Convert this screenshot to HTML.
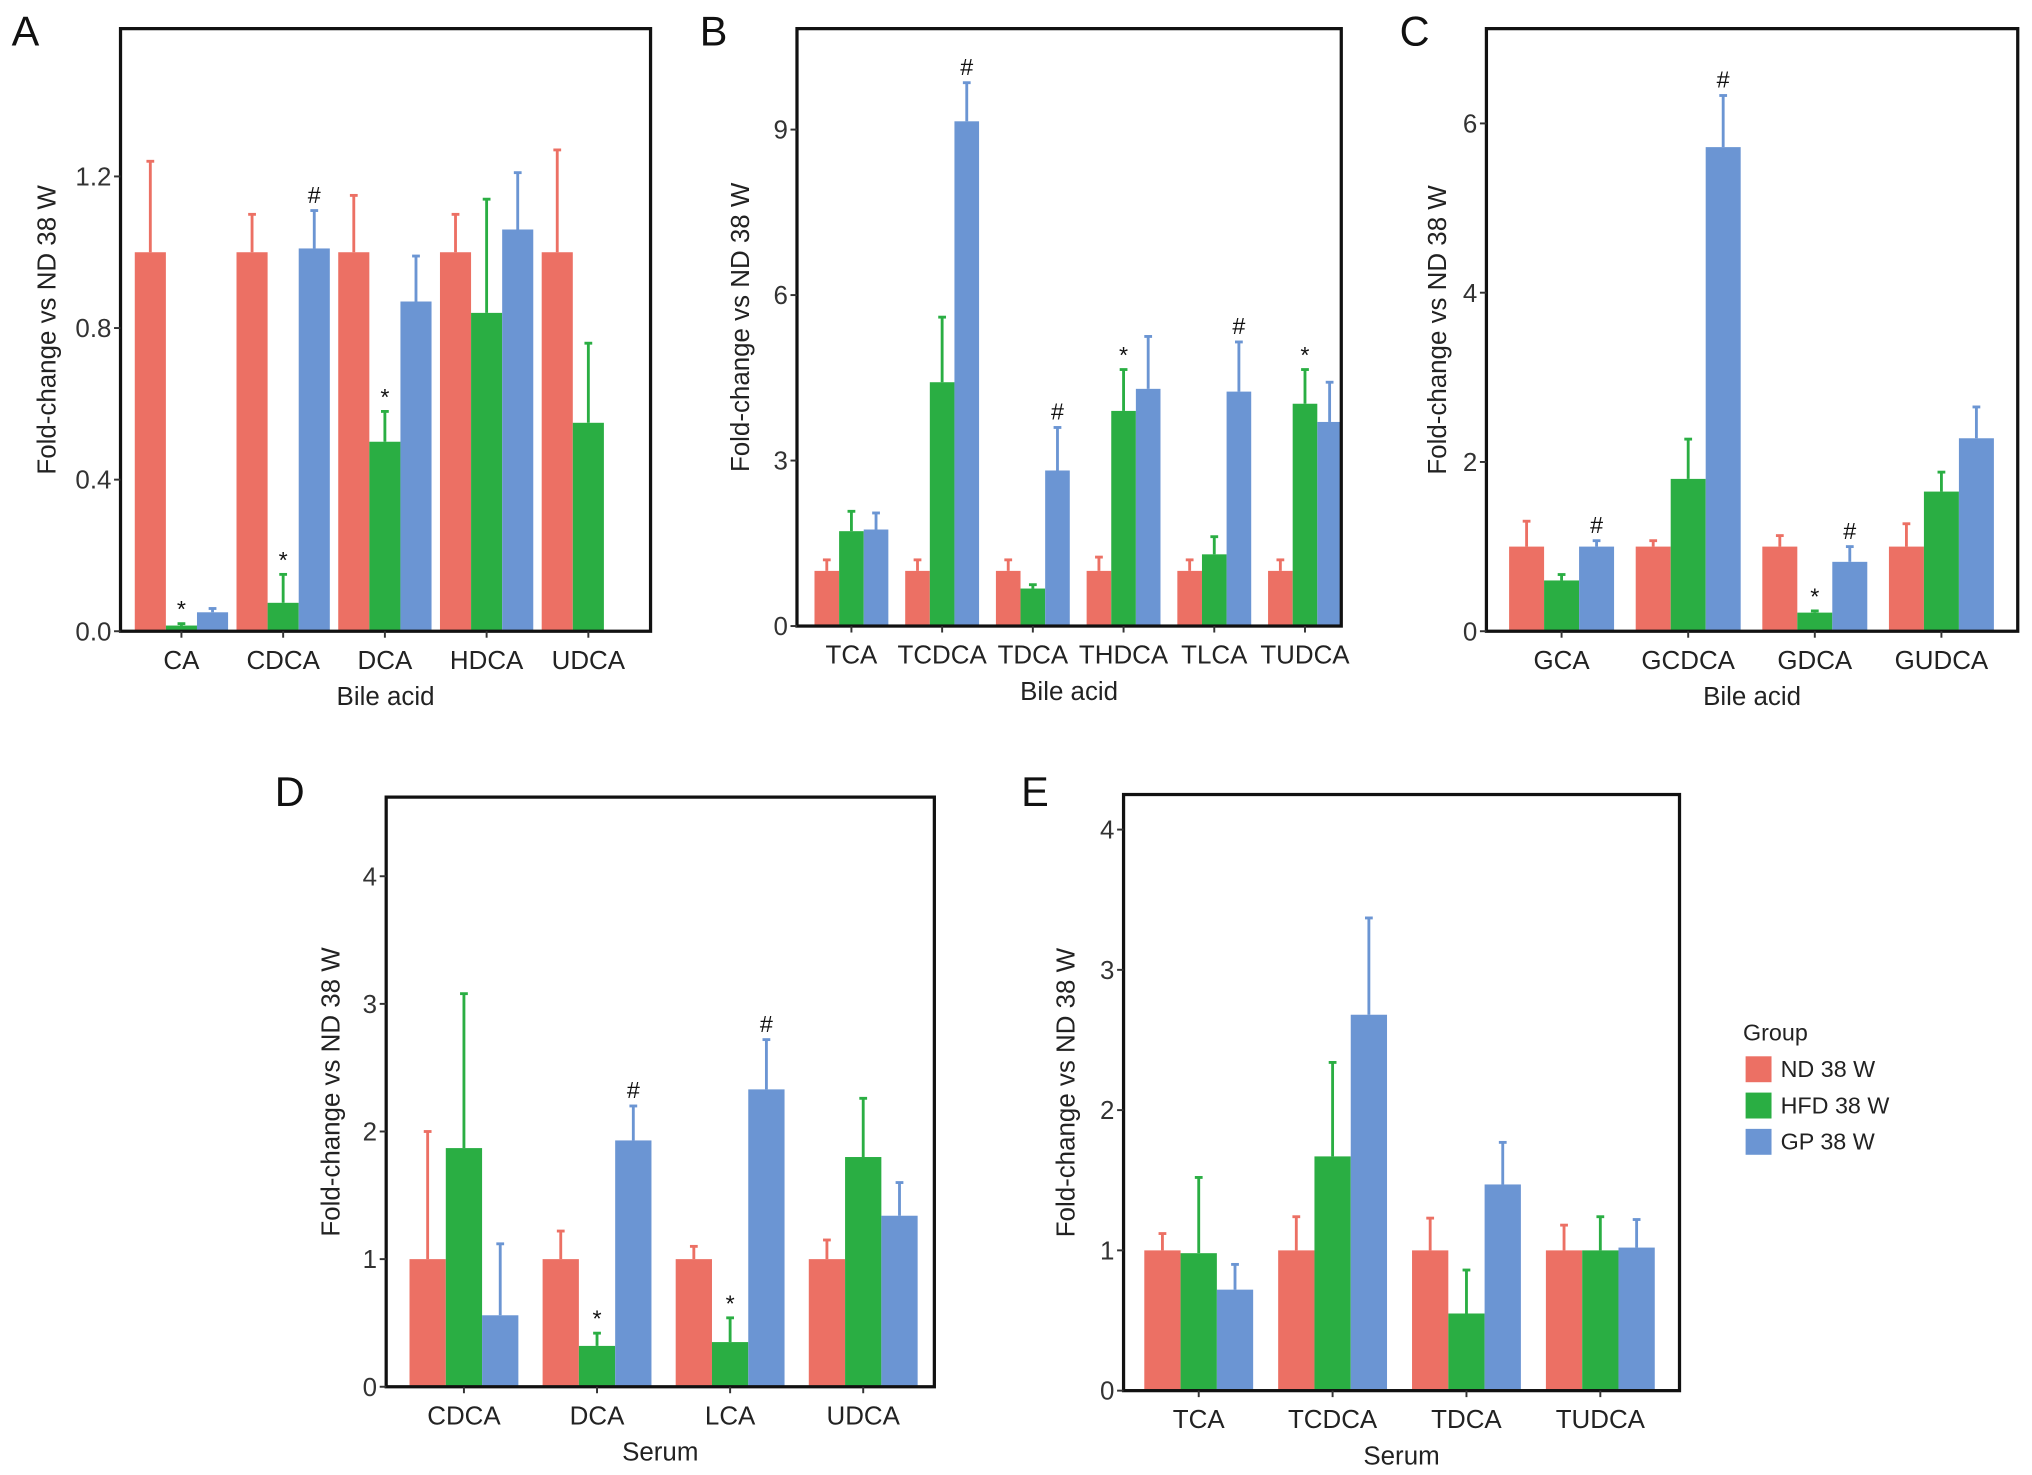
<!DOCTYPE html>
<html><head><meta charset="utf-8"><style>
html,body{margin:0;padding:0;background:#fff;}
svg{display:block;font-family:"Liberation Sans",Arial,sans-serif;}
</style></head><body>
<svg id="fig" width="2032" height="1475" viewBox="0 0 1568 1138" xmlns="http://www.w3.org/2000/svg"></svg>
<script>
const groups = ["ND 38 W", "HFD 38 W", "GP 38 W"];
const colors = ["#EC7064", "#2AAE43", "#6B95D3"];

const catsA = ["CA","CDCA","DCA","HDCA","UDCA"];
const ndA = [1,1,1,1,1];
const ndErrA = [1.24,1.10,1.15,1.10,1.27];
const hfdA = [0.015,0.075,0.50,0.84,0.55];
const hfdErrA = [0.02,0.15,0.58,1.14,0.76];
const gpA = [0.05,1.01,0.87,1.06,0];
const gpErrA = [0.06,1.11,0.99,1.21,0];
const ticksA = [0,0.4,0.8,1.2];
const tickLabelsA = ["0.0","0.4","0.8","1.2"];
const starsA = [0,1,2];
const hashA = [1];

const catsB = ["TCA","TCDCA","TDCA","THDCA","TLCA","TUDCA"];
const ndB = [1,1,1,1,1,1];
const ndErrB = [1.2,1.2,1.2,1.25,1.2,1.2];
const hfdB = [1.72,4.42,0.68,3.9,1.3,4.03];
const hfdErrB = [2.08,5.6,0.75,4.65,1.62,4.65];
const gpB = [1.75,9.15,2.82,4.3,4.25,3.7];
const gpErrB = [2.05,9.85,3.6,5.25,5.15,4.42];
const ticksB = [0,3,6,9];
const tickLabelsB = ["0","3","6","9"];
const starsB = [3,5];
const hashB = [1,2,4];

const catsC = ["GCA","GCDCA","GDCA","GUDCA"];
const ndC = [1,1,1,1];
const ndErrC = [1.3,1.07,1.13,1.27];
const hfdC = [0.6,1.8,0.22,1.65];
const hfdErrC = [0.67,2.27,0.24,1.88];
const gpC = [1.0,5.72,0.82,2.28];
const gpErrC = [1.07,6.33,1.0,2.65];
const ticksC = [0,2,4,6];
const tickLabelsC = ["0","2","4","6"];
const starsC = [2];
const hashC = [0,1,2];

const catsD = ["CDCA","DCA","LCA","UDCA"];
const ndD = [1,1,1,1];
const ndErrD = [2.0,1.22,1.1,1.15];
const hfdD = [1.87,0.32,0.35,1.8];
const hfdErrD = [3.08,0.42,0.54,2.26];
const gpD = [0.56,1.93,2.33,1.34];
const gpErrD = [1.12,2.2,2.72,1.6];
const ticksD = [0,1,2,3,4];
const tickLabelsD = ["0","1","2","3","4"];
const starsD = [1,2];
const hashD = [1,2];

const catsE = ["TCA","TCDCA","TDCA","TUDCA"];
const ndE = [1,1,1,1];
const ndErrE = [1.12,1.24,1.23,1.18];
const hfdE = [0.98,1.67,0.55,1.0];
const hfdErrE = [1.52,2.34,0.86,1.24];
const gpE = [0.72,2.68,1.47,1.02];
const gpErrE = [0.9,3.37,1.77,1.22];
const ticksE = [0,1,2,3,4];
const tickLabelsE = ["0","1","2","3","4"];
const starsE = [];
const hashE = [];

const NS = "http://www.w3.org/2000/svg";
const svg = document.getElementById("fig");
function mk(tag, attrs, parent, text){
  const e = document.createElementNS(NS, tag);
  for (const k in attrs) e.setAttribute(k, attrs[k]);
  if (text !== undefined) e.textContent = text;
  (parent || svg).appendChild(e);
  return e;
}

function panel(cfg){
  const g = mk("g", {});
  
  
  const {x0,x1,y0,y1,ymin,ymax,c0,step,bw} = cfg;
  const yS = v => y0 + (ymax - v) / (ymax - ymin) * (y1 - y0);
  const xS = i => c0 + i * step;
  const series = [[cfg.nd,cfg.ndErr],[cfg.hfd,cfg.hfdErr],[cfg.gp,cfg.gpErr]];
  cfg.cats.forEach((c,i)=>{
    series.forEach((s,k)=>{
      const v = s[0][i], ev = s[1][i];
      if (v <= 0) return;
      const bx = xS(i) + (k-1)*bw - bw/2;
      const cx = bx + bw/2;
      if (ev > v) {
        const el = mk("line",{x1:cx,x2:cx,y1:yS(v),y2:yS(ev),stroke:colors[k],"stroke-width":2.2},g);
        
        
        const cap = mk("line",{x1:cx-3,x2:cx+3,y1:yS(ev),y2:yS(ev),stroke:colors[k],"stroke-width":2.2},g);
        
        
      }
      const r = mk("rect",{x:bx,y:yS(v),width:bw,height:yS(0)-yS(v),fill:colors[k]},g);
      
      
    });
  });
  cfg.stars.forEach(i=>{
    const t = mk("text",{x:xS(i),y:yS(cfg.hfdErr[i])-5,"text-anchor":"middle","font-size":18,fill:"#111"},g,"*");
    
    
  });
  cfg.hash.forEach(i=>{
    const t = mk("text",{x:xS(i)+bw,y:yS(cfg.gpErr[i])-6,"text-anchor":"middle","font-size":18,fill:"#111"},g,"#");
    
    
  });
  const fr = mk("rect",{x:x0,y:y0,width:x1-x0,height:y1-y0,fill:"none",stroke:"#111","stroke-width":2.5},g);
  
  
  cfg.ticks.forEach((v,j)=>{
    const y = yS(v);
    mk("line",{x1:x0-5,x2:x0,y1:y,y2:y,stroke:"#333","stroke-width":1.5},g);
    const t = mk("text",{x:x0-7,y:y+7,"text-anchor":"end","font-size":20,fill:"#333"},g,cfg.tickLabels[j]);
    
    
  });
  cfg.cats.forEach((c,i)=>{
    mk("line",{x1:xS(i),x2:xS(i),y1:y1,y2:y1+5,stroke:"#333","stroke-width":1.5},g);
    const t = mk("text",{x:xS(i),y:y1+29,"text-anchor":"middle","font-size":20,fill:"#222"},g,c);
    
    
  });
  const xt = mk("text",{x:(x0+x1)/2,y:y1+57,"text-anchor":"middle","font-size":20,fill:"#222"},g,cfg.xTitle);
  
  
  const ym = (y0+y1)/2;
  const yt = mk("text",{x:cfg.ytx,y:ym,"text-anchor":"middle","font-size":20,fill:"#222",transform:`rotate(-90 ${cfg.ytx} ${ym})`},g,"Fold-change vs ND 38 W");
  
  
  const L = mk("text",{x:cfg.lx,y:cfg.ly,"font-size":32,fill:"#111"},g,cfg.letter);
  
  
}

panel({letter:"A",x0:93,x1:502,y0:22,y1:487,ymin:0,ymax:1.59,c0:140,step:78.5,bw:24,
  cats:catsA,nd:ndA,ndErr:ndErrA,hfd:hfdA,hfdErr:hfdErrA,gp:gpA,gpErr:gpErrA,
  ticks:ticksA,tickLabels:tickLabelsA,stars:starsA,hash:hashA,xTitle:"Bile acid",ytx:43,lx:9,ly:35});
panel({letter:"B",x0:615,x1:1035,y0:22,y1:483,ymin:0,ymax:10.83,c0:657,step:70,bw:19,
  cats:catsB,nd:ndB,ndErr:ndErrB,hfd:hfdB,hfdErr:hfdErrB,gp:gpB,gpErr:gpErrB,
  ticks:ticksB,tickLabels:tickLabelsB,stars:starsB,hash:hashB,xTitle:"Bile acid",ytx:578,lx:540,ly:35});
panel({letter:"C",x0:1147,x1:1557,y0:22,y1:487,ymin:0,ymax:7.12,c0:1205,step:97.7,bw:27,
  cats:catsC,nd:ndC,ndErr:ndErrC,hfd:hfdC,hfdErr:hfdErrC,gp:gpC,gpErr:gpErrC,
  ticks:ticksC,tickLabels:tickLabelsC,stars:starsC,hash:hashC,xTitle:"Bile acid",ytx:1116,lx:1080,ly:35});
panel({letter:"D",x0:298,x1:721,y0:615,y1:1070,ymin:0,ymax:4.62,c0:358,step:102.7,bw:28,
  cats:catsD,nd:ndD,ndErr:ndErrD,hfd:hfdD,hfdErr:hfdErrD,gp:gpD,gpErr:gpErrD,
  ticks:ticksD,tickLabels:tickLabelsD,stars:starsD,hash:hashD,xTitle:"Serum",ytx:262,lx:212,ly:622});
panel({letter:"E",x0:867,x1:1296,y0:613,y1:1073,ymin:0,ymax:4.25,c0:925,step:103.3,bw:28,
  cats:catsE,nd:ndE,ndErr:ndErrE,hfd:hfdE,hfdErr:hfdErrE,gp:gpE,gpErr:gpErrE,
  ticks:ticksE,tickLabels:tickLabelsE,stars:starsE,hash:hashE,xTitle:"Serum",ytx:829,lx:788,ly:622});

const lg = mk("g",{});


const lt = mk("text",{x:1345,y:803,"font-size":18,fill:"#222"},lg,"Group");


groups.forEach((gname,k)=>{
  const y = 815 + k*28;
  const sw = mk("rect",{x:1347,y:y,width:20,height:20,fill:colors[k]},lg);
  
  
  const t = mk("text",{x:1374,y:y+16,"font-size":18,fill:"#222"},lg,gname);
  
  
});
</script>
</body></html>
